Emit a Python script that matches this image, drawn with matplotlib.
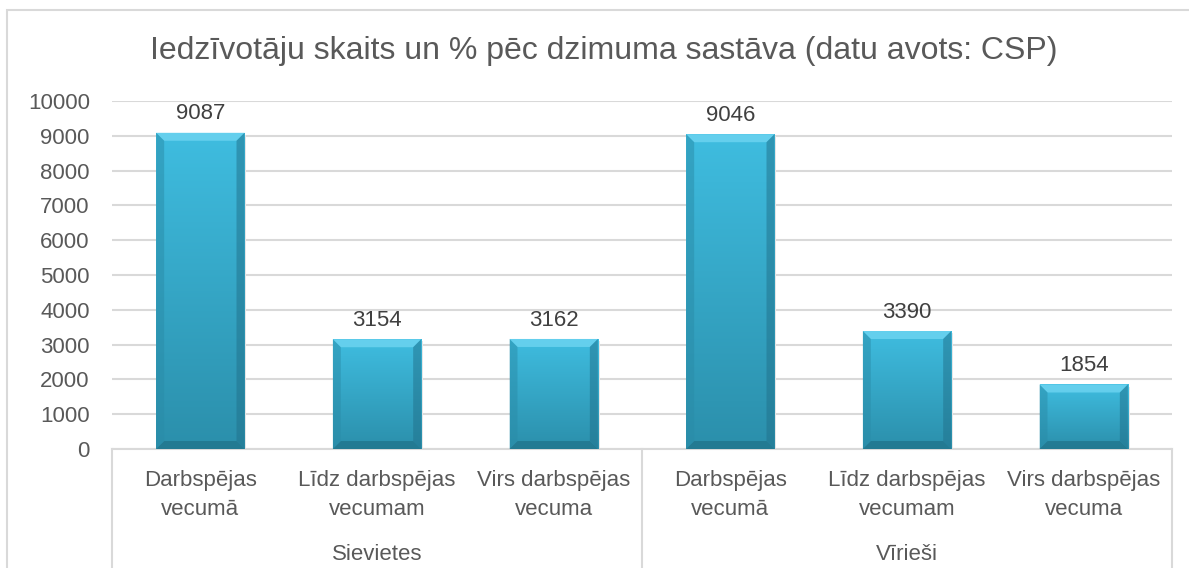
import matplotlib.pyplot as plt
import numpy as np
from matplotlib.patches import Polygon, Rectangle
from matplotlib.colors import LinearSegmentedColormap

plt.rcParams['font.family'] = ['Liberation Sans', 'DejaVu Sans']

groups = ['Sievietes', 'Vīrieši']
subcats = ['Darbspējas\nvecumā', 'Līdz darbspējas\nvecumam', 'Virs darbspējas\nvecuma']
values = [9087, 3154, 3162, 9046, 3390, 1854]
title = 'Iedzīvotāju skaits un % pēc dzimuma sastāva (datu avots: CSP)'

W, H = 1189, 568
fig = plt.figure(figsize=(W / 100, H / 100), dpi=100)
fig.patch.set_facecolor('white')

# outer chart frame
fig.add_artist(Rectangle((7 / W, -0.1), 1.2, (H - 10) / H + 0.1, transform=fig.transFigure,
                         fill=False, edgecolor='#D9D9D9', linewidth=1.5))

x0, x1, ytop, ybot = 112, 1172, 101, 449
ax = fig.add_axes([x0 / W, 1 - ybot / H, (x1 - x0) / W, (ybot - ytop) / H])
ax.set_xlim(-0.5, 5.5)
ax.set_ylim(0, 10000)
ax.set_yticks(np.arange(0, 10001, 1000))
ax.yaxis.grid(True, color='#D9D9D9', linewidth=1.5)
ax.set_axisbelow(True)
for s in ['left', 'right', 'top']:
    ax.spines[s].set_visible(False)
ax.spines['bottom'].set_color('#D9D9D9')
ax.spines['bottom'].set_linewidth(1.5)
ax.tick_params(axis='y', length=0, labelsize=16, labelcolor='#595959', pad=16)
ax.tick_params(axis='x', length=0)
ax.set_xticks([])

x = np.arange(len(values))
bw = 0.5
cmap = LinearSegmentedColormap.from_list('bar', ['#2B8FAB', '#3FBDE0'])
grad = np.linspace(0, 1, 256).reshape(-1, 1)

# bevel sizes in data units (~8 px)
px_x = (x1 - x0) / 6.0
px_y = (ybot - ytop) / 10000.0
bx = 8 / px_x
by = 8 / px_y

for xi, v in zip(x, values):
    l, r = xi - bw / 2, xi + bw / 2
    # soft shadow
    ax.add_patch(Rectangle((l + 0.01, -60), bw, v, facecolor='#E6E6E6', edgecolor='none', zorder=2))
    im = ax.imshow(grad, extent=(l, r, 0, v), origin='lower', cmap=cmap, aspect='auto', zorder=3)
    im.set_clip_path(Rectangle((l, 0), bw, v, transform=ax.transData))
    # bevel faces
    ax.add_patch(Polygon([(l, v), (r, v), (r - bx, v - by), (l + bx, v - by)],
                         closed=True, facecolor='#6BD3F0', edgecolor='none', alpha=0.85, zorder=4))
    ax.add_patch(Polygon([(l, 0), (r, 0), (r - bx, by), (l + bx, by)],
                         closed=True, facecolor='#1E6C82', edgecolor='none', alpha=0.6, zorder=4))
    ax.add_patch(Polygon([(l, 0), (l + bx, by), (l + bx, v - by), (l, v)],
                         closed=True, facecolor='#2A8CA8', edgecolor='none', alpha=0.5, zorder=4))
    ax.add_patch(Polygon([(r, 0), (r - bx, by), (r - bx, v - by), (r, v)],
                         closed=True, facecolor='#21708A', edgecolor='none', alpha=0.5, zorder=4))
    ax.annotate(str(v), (xi, v), xytext=(0, 6), textcoords='offset points',
                ha='center', va='bottom', fontsize=16, color='#404040', zorder=5)

# multi-level category axis
trans = ax.get_xaxis_transform()
for i, lab in enumerate(subcats * len(groups)):
    ax.text(i, -0.132, lab, transform=trans, ha='center', va='center', fontsize=16,
            color='#595959', linespacing=1.5)
for g, name in enumerate(groups):
    ax.text(g * 3 + 1, -0.304, name, transform=trans, ha='center', va='center',
            fontsize=16, color='#595959')
for xb in [-0.5, 2.5, 5.5]:
    ax.plot([xb, xb], [0, -0.4], transform=trans, color='#D9D9D9', linewidth=1.5, clip_on=False)

fig.text(604 / W, 1 - 51 / H, title, ha='center', va='center', fontsize=23, color='#595959')

fig.savefig('out.png', dpi=100)
